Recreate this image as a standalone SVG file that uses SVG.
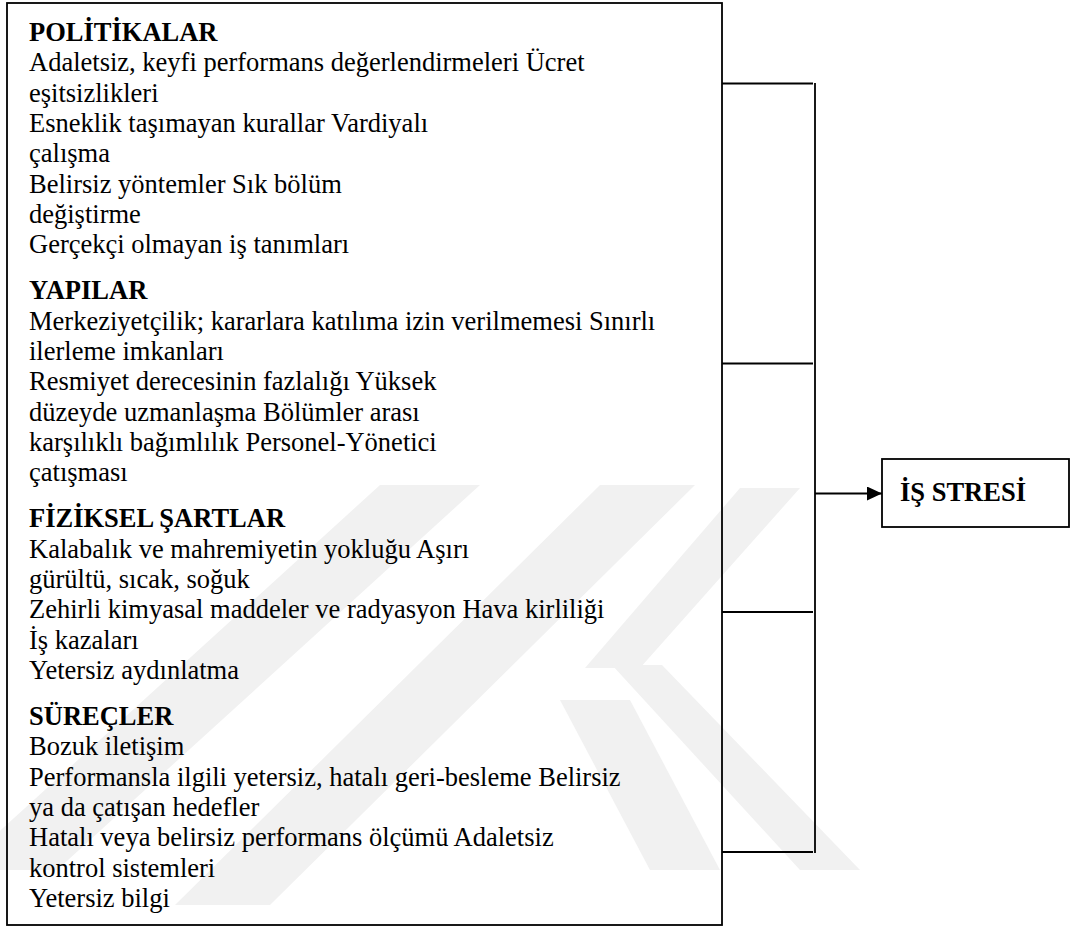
<svg xmlns="http://www.w3.org/2000/svg" width="1078" height="927" viewBox="0 0 1078 927">
  <defs>
    <style>
      .t { font-family: "Liberation Serif", "Times New Roman", serif; font-size: 26.5px; fill: #000; }
      .h { font-weight: bold; }
      .ln { stroke: #000; stroke-width: 1.8; fill: none; }
      .wm { fill: #f1f1f1; stroke: none; }
    </style>
    <marker id="arr" viewBox="0 0 15 14" refX="15" refY="7" markerWidth="15" markerHeight="14" markerUnits="userSpaceOnUse" orient="auto">
      <path d="M0,0 L15,7 L0,14 Z" fill="#000"/>
    </marker>
  </defs>
  <rect width="1078" height="927" fill="#fff"/>
  <g id="watermark">
    <polygon class="wm" points="380,485 480,485 57,870 -43,870"/>
    <polygon class="wm" points="600,485 695,485 270,905 175,905"/>
    <polygon class="wm" points="740,488 800,488 640,668 585,668"/>
    <polygon class="wm" points="560,700 630,700 720,870 650,870"/>
    <polygon class="wm" points="612,665 662,665 860,870 800,870"/>
  </g>
  <g id="factors">
    <rect x="7" y="3" width="715" height="922" class="ln"/>
    <text class="t h" x="29" y="41">POLİTİKALAR</text>
    <text class="t" x="29" y="71.3">Adaletsiz, keyfi performans değerlendirmeleri Ücret</text>
    <text class="t" x="29" y="101.6">eşitsizlikleri</text>
    <text class="t" x="29" y="131.9">Esneklik taşımayan kurallar Vardiyalı</text>
    <text class="t" x="29" y="162.2">çalışma</text>
    <text class="t" x="29" y="192.5">Belirsiz yöntemler Sık bölüm</text>
    <text class="t" x="29" y="222.8">değiştirme</text>
    <text class="t" x="29" y="253.1">Gerçekçi olmayan iş tanımları</text>
    <text class="t h" x="29" y="299.3">YAPILAR</text>
    <text class="t" x="29" y="329.6">Merkeziyetçilik; kararlara katılıma izin verilmemesi Sınırlı</text>
    <text class="t" x="29" y="359.9">ilerleme imkanları</text>
    <text class="t" x="29" y="390.2">Resmiyet derecesinin fazlalığı Yüksek</text>
    <text class="t" x="29" y="420.5">düzeyde uzmanlaşma Bölümler arası</text>
    <text class="t" x="29" y="450.8">karşılıklı bağımlılık Personel-Yönetici</text>
    <text class="t" x="29" y="481.1">çatışması</text>
    <text class="t h" x="29" y="527.3">FİZİKSEL ŞARTLAR</text>
    <text class="t" x="29" y="557.6">Kalabalık ve mahremiyetin yokluğu Aşırı</text>
    <text class="t" x="29" y="587.9">gürültü, sıcak, soğuk</text>
    <text class="t" x="29" y="618.2">Zehirli kimyasal maddeler ve radyasyon Hava kirliliği</text>
    <text class="t" x="29" y="648.5">İş kazaları</text>
    <text class="t" x="29" y="678.8">Yetersiz aydınlatma</text>
    <text class="t h" x="29" y="725">SÜREÇLER</text>
    <text class="t" x="29" y="755.3">Bozuk iletişim</text>
    <text class="t" x="29" y="785.6">Performansla ilgili yetersiz, hatalı geri-besleme Belirsiz</text>
    <text class="t" x="29" y="815.9">ya da çatışan hedefler</text>
    <text class="t" x="29" y="846.2">Hatalı veya belirsiz performans ölçümü Adaletsiz</text>
    <text class="t" x="29" y="876.5">kontrol sistemleri</text>
    <text class="t" x="29" y="906.8">Yetersiz bilgi</text>
  </g>
  <g id="is-stresi">
    <rect x="882" y="459" width="187" height="68" class="ln" stroke-width="2"/>
    <text class="t h" x="900" y="501">İŞ STRESİ</text>
  </g>
  <g id="connectors">
    <path class="ln" d="M722,83.5 H813 M722,363.5 H813 M722,612 H813 M722,852 H813"/>
    <path class="ln" d="M815,83 V853"/>
    <path class="ln" d="M815,493.5 H882" marker-end="url(#arr)"/>
  </g>
</svg>
